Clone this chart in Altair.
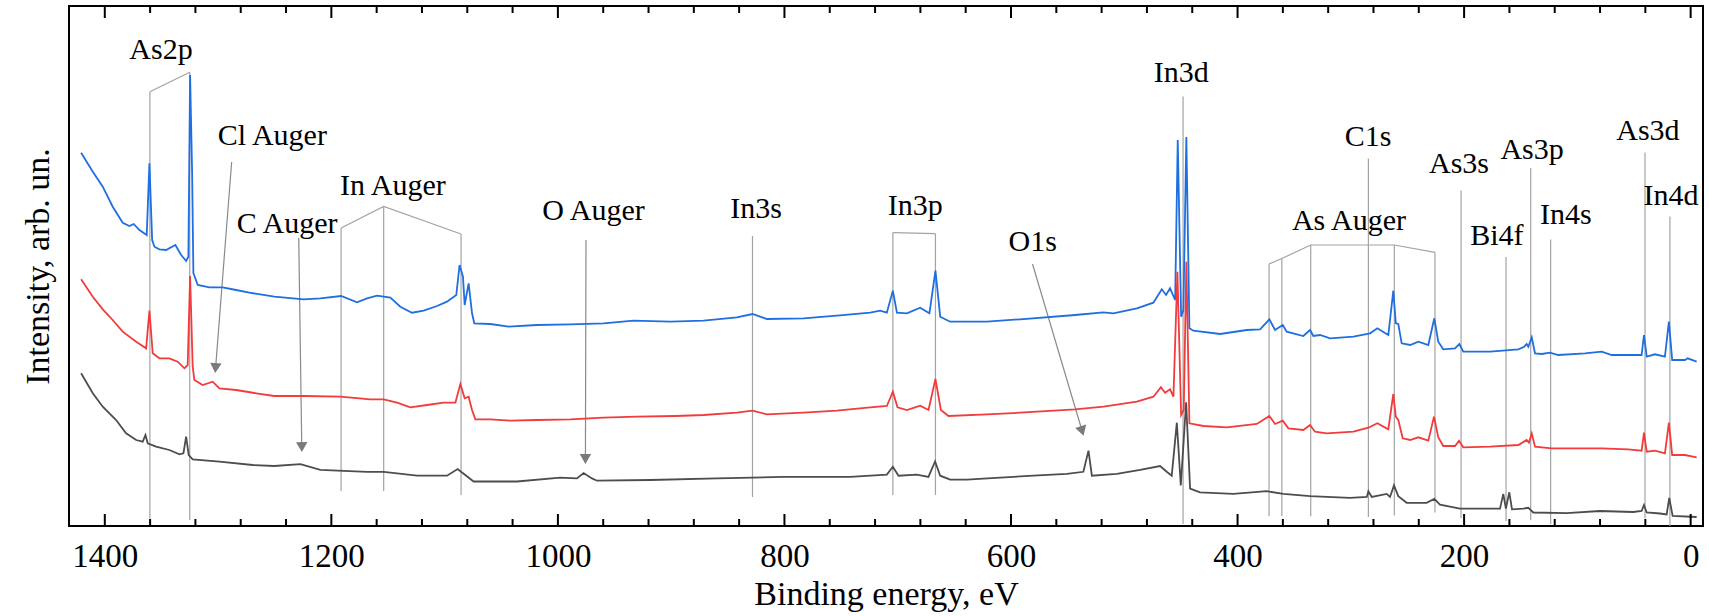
import altair as alt
import pandas as pd

FONT = "'Liberation Serif', 'Times New Roman', Times, serif"

# ---------------- spectra (binding energy eV, intensity arb. un.) ----------------
blue_E = [1420.9, 1410.6, 1401.8, 1393.0, 1384.2, 1378.3, 1374.5, 1369.4, 1363.0, 1360.6,
          1358.2, 1356.2, 1351.8, 1345.9, 1337.7, 1332.6, 1328.2, 1326.2, 1324.7, 1322.9,
          1321.8, 1317.9, 1307.7, 1295.9, 1284.1, 1272.4, 1250.3, 1224.4, 1209.7, 1191.4,
          1177.3, 1168.5, 1159.7, 1147.9, 1139.1, 1128.8, 1118.5, 1106.7, 1097.9, 1089.7,
          1086.8, 1083.8, 1082.3, 1078.8, 1075.8, 1073.8, 1059.7, 1043.5, 1018.5, 989.1,
          959.7, 933.2, 900.8, 871.4, 842.0, 828.2, 815.5, 783.2, 753.7, 724.3,
          715.5, 709.6, 704.3, 700.7, 691.9, 680.2, 672.0, 666.7, 662.5, 653.7,
          621.3, 591.9, 543.4, 518.4, 509.6, 488.9, 474.3, 466.9, 463.1, 459.6,
          455.1, 452.8, 449.8, 447.8, 445.2, 442.5, 439.0, 415.4, 391.9, 380.1,
          371.9, 366.9, 360.1, 356.6, 341.9, 336.0, 333.1, 327.2, 318.3, 297.7,
          283.0, 276.6, 266.9, 262.5, 260.3, 258.1, 255.1, 247.7, 240.4, 231.6,
          226.3, 222.8, 218.4, 208.0, 204.2, 200.7, 177.1, 152.1, 146.9, 144.8,
          143.3, 140.3, 137.4, 131.5, 124.2, 116.8, 93.3, 78.5, 69.7, 43.3,
          41.2, 38.8, 31.5, 22.7, 19.2, 16.3, 5.0, 2.6, -5.3]
blue_I = [373.3, 354.3, 339.3, 319.3, 303.3, 300, 302, 296, 291, 362.7,
          286, 279.3, 276.7, 276, 281, 271, 265, 269.3, 451, 353,
          253, 241, 238.7, 238.7, 236, 233.3, 229.3, 226.7, 227.7, 230,
          223.7, 227.7, 230.3, 228.3, 219.3, 213.3, 215.3, 220, 224.3, 231,
          261, 249.3, 221, 242.7, 212.7, 202.7, 202, 199.3, 201, 201.7,
          202.7, 205.3, 204.3, 205.3, 208.7, 212, 207, 207.7, 210.3, 213.3,
          215.3, 213.3, 235.3, 213.3, 212.7, 218.3, 212.7, 255.3, 209.3, 204.3,
          204.3, 206.7, 211, 213.7, 212.7, 217.7, 223.3, 236.7, 231, 237.7,
          226, 386, 209.3, 216, 389, 197.7, 195.3, 192, 196, 196.7,
          206.7, 196, 201, 194.3, 190, 196, 190, 191, 187.7, 189.3,
          192.7, 197.7, 191, 235.3, 202.7, 202, 182.7, 181, 184.3, 181,
          207.7, 184.3, 176.7, 177.7, 182, 174.3, 174.3, 176.7, 179.3, 182,
          179.3, 188.7, 172.7, 172, 173.3, 171, 172.7, 174.3, 171, 171,
          191, 169.3, 171.7, 169.3, 204.3, 166, 166, 167.7, 164.3]

red_E = [1420.9, 1410.6, 1401.8, 1393.0, 1384.2, 1372.3, 1363.5, 1360.6, 1357.7, 1351.8,
         1343.0, 1335.6, 1329.7, 1326.8, 1324.7, 1322.4, 1320.9, 1313.6, 1304.8, 1298.8,
         1284.1, 1266.4, 1250.3, 1224.4, 1192.0, 1165.6, 1153.8, 1142.0, 1130.3, 1115.5,
         1100.9, 1090.5, 1086.1, 1082.3, 1078.8, 1075.8, 1072.9, 1059.7, 1042.0, 1018.5,
         989.1, 959.7, 930.2, 896.4, 871.4, 842.0, 828.2, 815.5, 783.2, 753.7,
         724.3, 709.6, 704.3, 700.2, 691.9, 680.2, 672.8, 666.7, 661.9, 655.2,
         621.3, 591.9, 543.4, 518.4, 488.9, 474.3, 467.7, 464.0, 459.6, 456.6,
         453.1, 449.8, 447.5, 445.2, 442.5, 430.1, 409.5, 383.0, 371.9, 366.9,
         360.1, 355.1, 341.9, 336.0, 331.6, 321.3, 297.7, 284.5, 276.6, 266.9,
         262.5, 260.3, 258.1, 254.2, 247.7, 240.4, 231.6, 226.6, 222.8, 218.4,
         208.0, 204.5, 200.7, 177.1, 152.1, 144.8, 142.8, 140.3, 137.4, 122.7,
         78.5, 55.1, 43.3, 41.2, 38.8, 31.5, 22.7, 19.2, 16.3, 5.0, -5.3]
red_I = [246.7, 229.3, 216.7, 206, 194.3, 184.3, 177.7, 215.3, 172.7, 167.7,
         167.7, 164.3, 157.7, 161, 250, 159.3, 146, 141, 144.3, 137.7,
         136, 132.7, 130, 130, 129.3, 126.7, 126.7, 123.3, 118.7, 121,
         123.3, 123.3, 142, 127.7, 129.3, 116, 106.7, 106.7, 105.3, 106,
         106.7, 108.3, 109.3, 110, 111, 113.3, 115.3, 111.7, 113.3, 115.3,
         118.7, 120, 134.3, 118.7, 116, 120.3, 116, 147, 116, 110,
         111.7, 113.3, 116.7, 119.3, 124.3, 129.3, 138.7, 133.3, 136.7, 129.3,
         254.3, 111, 116, 264.3, 102.7, 100, 98.7, 102, 110, 102,
         105.3, 97.7, 96, 101, 94.3, 92.7, 94.3, 98.3, 102.7, 96.7,
         132, 109.3, 106, 87.7, 86, 88.7, 85.3, 109.3, 88.7, 80,
         80, 85.3, 78.7, 79.3, 81, 86, 83.3, 92.7, 79.3, 77.7,
         77.7, 76.7, 75.3, 93.3, 74.3, 75.3, 72.7, 103.3, 71, 71, 68.7]

gray_E = [1420.9, 1410.6, 1401.8, 1390.0, 1381.2, 1372.3, 1366.5, 1364.1, 1362.1, 1354.7,
          1343.0, 1334.1, 1330.6, 1328.2, 1325.9, 1322.4, 1298.8, 1269.4, 1250.3, 1227.3,
          1209.7, 1168.5, 1153.8, 1124.3, 1097.9, 1088.5, 1083.2, 1074.4, 1036.1, 997.9,
          983.2, 977.3, 969.9, 965.5, 918.5, 859.6, 800.8, 742.0, 709.6, 704.3,
          699.3, 683.1, 672.9, 667.0, 662.5, 653.7, 639.0, 609.6, 580.2, 550.7,
          536.1, 531.6, 528.6, 506.6, 486.0, 468.4, 462.5, 458.1, 453.6, 450.1,
          445.4, 441.9, 433.1, 403.7, 374.3, 359.6, 336.0, 300.7, 285.9, 284.5,
          281.5, 268.3, 265.4, 261.9, 258.1, 250.7, 233.1, 226.3, 221.3, 203.6,
          168.3, 165.4, 163.1, 160.1, 157.7, 147.7, 143.3, 138.9, 109.5, 80.1,
          50.7, 43.3, 41.2, 38.8, 27.1, 21.2, 18.9, 15.9, -5.3]
gray_I = [152.7, 132.7, 119.3, 106, 92.7, 86, 84.3, 91, 82.7, 79.3,
          76, 71.7, 72.7, 89.3, 71, 66.7, 64.3, 61, 60, 61.9,
          56.1, 54.2, 54.2, 50.3, 50.3, 56.9, 52.2, 44.5, 44.5, 48.4,
          47.6, 53, 47.6, 45.3, 46, 47.6, 49.1, 49.1, 51.4, 59.2,
          50.3, 51.4, 49.1, 64.6, 50.3, 46.4, 46.4, 48.4, 50.3, 52.2,
          54.2, 75.4, 50.3, 52.2, 56.1, 60, 54.2, 50.3, 103.3, 40.6,
          123.8, 37.5, 33.6, 32.1, 34.8, 32.1, 29.8, 28.2, 29, 34.8,
          29, 32.1, 29, 40.6, 29.8, 23.2, 23.2, 27.1, 21.3, 17.4,
          17.4, 32.1, 17.4, 33.7, 16.6, 17.4, 18.2, 13.5, 12.8, 15,
          14, 15, 21, 13.5, 12.5, 11.5, 28, 10, 9]

# ---------------- annotation guide lines ----------------
vline_E = [1360.2, 1325.0, 1191.4, 1153.8, 1085.5, 828.2, 704.3, 666.7, 448.1, 372.2,
           360.9, 335.4, 261.6, 225.7, 284.5, 202.7, 163.0, 141.2, 123.6, 40.3, 18.3]
vline_lo = [7.5, 6, 35, 35, 31, 29, 31, 31, 2, 9.7,
            9.7, 9.7, 10.4, 13.5, 9, 7.7, 5, 5.8, 2, 7.7, 0]
vline_hi = [434.3, 453.7, 298, 319.5, 292, 290, 293.3, 292.3, 429.6, 262,
            267.5, 281, 281, 273.7, 367.6, 335.5, 269, 358, 286.4, 373.4, 309.6]

conn_group = ["As2p", "As2p", "InA", "InA", "InA", "In3p", "In3p",
              "AsA", "AsA", "AsA", "AsA", "AsA"]
conn_E = [1360.2, 1325.0, 1191.4, 1153.8, 1085.5, 704.3, 666.7,
          372.2, 360.9, 335.4, 261.6, 225.7]
conn_I = [434.3, 453.7, 298, 319.5, 292, 293.3, 292.3,
          262, 267.5, 281, 281, 273.7]

# arrows: start (E0, I0) -> head (E1, I1)
arrow_E0 = [1288.0, 1228.8, 975.2, 581.0]
arrow_I0 = [364, 288, 286, 262]
arrow_E1 = [1302.2, 1226.1, 975.7, 537.2]
arrow_I1 = [158, 79, 67, 95]
arrow_angle = [4, 359, 0, 343]

# labels
label_text = ["As2p", "Cl Auger", "C Auger", "In Auger", "O Auger", "In3s", "In3p", "O1s",
              "In3d", "As Auger", "C1s", "As3s", "As3p", "Bi4f", "In4s", "As3d", "In4d"]
label_E = [1350.4, 1252.1, 1239.1, 1145.7, 968.5, 825.1, 684.6, 580.9,
           449.8, 301.6, 284.8, 204.5, 140.0, 171.0, 110.1, 37.7, 17.4]
label_I = [476, 390.5, 302, 340, 315, 317, 320, 284,
           453, 305, 389, 362, 376, 290, 311, 395, 330]

# axis ticks (eV) and their lengths (same units as intensity)
major_ticks = [0, 200, 400, 600, 800, 1000, 1200, 1400]
minor_ticks = [40, 80, 120, 160, 240, 280, 320, 360, 440, 480, 520, 560, 640, 680, 720, 760,
               840, 880, 920, 960, 1040, 1080, 1120, 1160, 1240, 1280, 1320, 1360]
MAJOR_LEN = 12
MINOR_LEN = 7
Y_TOP = 520

# ---------------- tables ----------------
series_df = pd.concat([
    pd.DataFrame({"E": blue_E, "I": blue_I, "s": "blue"}),
    pd.DataFrame({"E": red_E, "I": red_I, "s": "red"}),
    pd.DataFrame({"E": gray_E, "I": gray_I, "s": "gray"}),
], ignore_index=True)
vline_df = pd.DataFrame({"E": vline_E, "lo": vline_lo, "hi": vline_hi})
conn_df = pd.DataFrame({"g": conn_group, "E": conn_E, "I": conn_I, "o": list(range(len(conn_E)))})
arrow_df = pd.DataFrame({"E0": arrow_E0, "I0": arrow_I0, "E1": arrow_E1, "I1": arrow_I1,
                         "a": arrow_angle})
label_df = pd.DataFrame({"t": label_text, "E": label_E, "I": label_I})

tick_rows = []
for v in major_ticks:
    tick_rows.append({"E": v, "lo": 0, "hi": MAJOR_LEN})
    tick_rows.append({"E": v, "lo": Y_TOP - MAJOR_LEN, "hi": Y_TOP})
for v in minor_ticks:
    tick_rows.append({"E": v, "lo": 0, "hi": MINOR_LEN})
    tick_rows.append({"E": v, "lo": Y_TOP - MINOR_LEN, "hi": Y_TOP})
tick_df = pd.DataFrame(tick_rows)

xscale = alt.Scale(domain=[-10.9, 1431.6], reverse=True, nice=False, zero=False)
yscale = alt.Scale(domain=[0, Y_TOP], nice=False, zero=False)

x_axis = alt.Axis(orient="bottom", values=major_ticks, ticks=False, domain=False, grid=False,
                  format="d", labelFont=FONT, labelFontSize=33, labelColor="black",
                  labelPadding=14, labelFlush=False, labelOverlap=False,
                  title="Binding energy, eV", titleFont=FONT, titleFontSize=34,
                  titleFontWeight="normal", titleColor="black", titlePadding=4)

y_axis = alt.Axis(orient="left", ticks=False, labels=False, domain=False, grid=False,
                  title="Intensity, arb. un.", titleFont=FONT, titleFontSize=34,
                  titleFontWeight="normal", titleColor="black", titlePadding=14)


def X(field):
    return alt.X(field, type="quantitative", scale=xscale, axis=x_axis)


def Y(field):
    return alt.Y(field, type="quantitative", scale=yscale, axis=y_axis)


GUIDE = "#a3a3a3"

vlines = alt.Chart(vline_df).mark_rule(color=GUIDE, strokeWidth=1.2).encode(
    x=X("E"), y=Y("lo"), y2="hi:Q",
)

connectors = alt.Chart(conn_df).mark_line(color=GUIDE, strokeWidth=1.2).encode(
    x=X("E"), y=Y("I"), detail="g:N", order="o:Q",
)

arrow_lines = alt.Chart(arrow_df).mark_rule(color="#8a8a8a", strokeWidth=1.2).encode(
    x=X("E0"), y=Y("I0"), x2="E1:Q", y2="I1:Q",
)

spectra = alt.Chart(series_df).mark_line(strokeWidth=1.8).encode(
    x=X("E"), y=Y("I"),
    color=alt.Color("s:N", scale=alt.Scale(domain=["blue", "red", "gray"],
                                           range=["#1f6fe0", "#f23b3b", "#4d4d4d"]),
                    legend=None),
)

arrow_heads = alt.Chart(arrow_df).mark_point(shape="triangle-down", filled=True, size=130,
                                             color="#7a7a7a", opacity=1).encode(
    x=X("E1"), y=Y("I1"), angle=alt.Angle("a:Q", scale=None),
)

labels = alt.Chart(label_df).mark_text(font=FONT, fontSize=30, color="black",
                                       align="center", baseline="middle").encode(
    x=X("E"), y=Y("I"), text="t:N",
)

ticks = alt.Chart(tick_df).mark_rule(color="black", strokeWidth=2).encode(
    x=X("E"), y=Y("lo"), y2="hi:Q",
)

chart = alt.layer(vlines, connectors, arrow_lines, spectra, arrow_heads, labels, ticks).properties(
    width=1634,
    height=520,
    autosize=alt.AutoSizeParams(type="none"),
    padding={"left": 69, "top": 6, "right": 6, "bottom": 90},
    background="white",
).configure(
    font=FONT
).configure_axis(
    labelFont=FONT, titleFont=FONT
).configure_view(stroke="black", strokeWidth=2)

chart.save("out.html", embed_options={"renderer": "svg", "actions": False})
